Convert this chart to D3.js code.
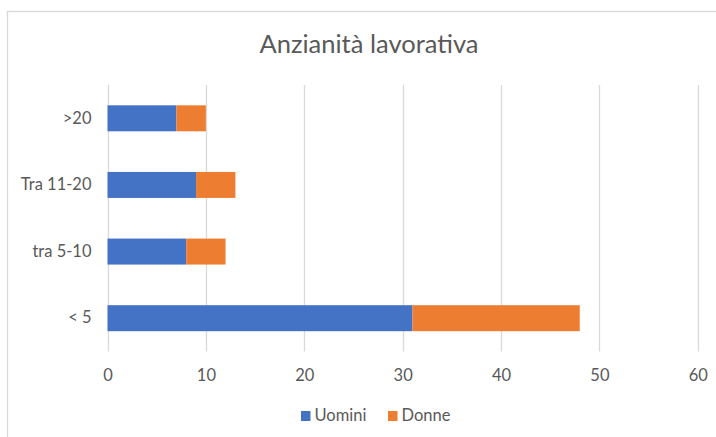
<!DOCTYPE html>
<html>
<head>
<meta charset="utf-8">
<script src="https://cdn.jsdelivr.net/npm/d3@7"></script>
<style>
  html, body { margin: 0; padding: 0; background: #fff; }
  svg { display: block; font-family: Lato, "Open Sans", sans-serif; }
</style>
</head>
<body>
<svg id="chart" width="716" height="437"></svg>
<script>
// Seniority bands, top to bottom
const categories = [">20", "Tra 11-20", "tra 5-10", "< 5"];
const uomini = [7, 9, 8, 31];
const donne = [3, 4, 4, 17];
const seriesNames = ["Uomini", "Donne"];
const seriesColors = ["#4472C4", "#ED7D31"];
const xTicks = [0, 10, 20, 30, 40, 50, 60];

const svg = d3.select("#chart");
const W = 716, H = 437;
const margin = { left: 107.5, right: 18, top: 85, bottom: 85.5 };
const textColor = "#595959";
const labelSize = "16.5px";

// Chart frame
svg.append("rect")
  .attr("x", 7.5).attr("y", 11.5)
  .attr("width", W + 10).attr("height", H + 10)
  .attr("fill", "#fff").attr("stroke", "#d9d9d9").attr("stroke-width", 1.3);

const x = d3.scaleLinear().domain([0, 60]).range([margin.left, 697.8]);
const y = d3.scaleBand().domain(categories)
  .range([margin.top, H - margin.bottom]).paddingInner(0.61).paddingOuter(0.305);

// Vertical gridlines
svg.append("g").selectAll("line").data(xTicks).join("line")
  .attr("x1", d => Math.round(x(d)) + 0.5).attr("x2", d => Math.round(x(d)) + 0.5)
  .attr("y1", margin.top).attr("y2", H - margin.bottom)
  .attr("stroke", "#d9d9d9").attr("stroke-width", 1.3);

// Stacked bars
const rows = categories.map((c, i) => ({ cat: c, Uomini: uomini[i], Donne: donne[i] }));
const stacked = d3.stack().keys(seriesNames)(rows);
svg.append("g").selectAll("g").data(stacked).join("g")
  .attr("fill", (d, i) => seriesColors[i])
  .selectAll("rect").data(d => d).join("rect")
  .attr("x", d => x(d[0]))
  .attr("width", d => x(d[1]) - x(d[0]))
  .attr("y", d => y(d.data.cat))
  .attr("height", y.bandwidth());

// X axis labels
const xAxis = d3.axisBottom(x).tickValues(xTicks).tickSize(0).tickPadding(0);
const gx = svg.append("g").attr("transform", `translate(0,381)`).call(xAxis);
gx.select(".domain").remove();
gx.selectAll("text").attr("fill", textColor).attr("font-size", labelSize)
  .attr("font-family", "Lato, 'Open Sans', sans-serif").attr("dy", "0");

// Y axis labels
const yAxis = d3.axisLeft(y).tickSize(0).tickPadding(16);
const gy = svg.append("g").attr("transform", `translate(${margin.left},0)`).call(yAxis);
gy.select(".domain").remove();
gy.selectAll("text").attr("fill", textColor).attr("font-size", labelSize)
  .attr("font-family", "Lato, 'Open Sans', sans-serif");

// Title
svg.append("text")
  .attr("x", 369).attr("y", 53)
  .attr("text-anchor", "middle")
  .attr("fill", textColor).attr("font-size", "25.5px")
  .text("Anzianità lavorativa");

// Legend
const legendItems = [{ name: "Uomini", x: 301 }, { name: "Donne", x: 388 }];
const lg = svg.append("g").selectAll("g").data(legendItems).join("g")
  .attr("transform", d => `translate(${d.x},411)`);
lg.append("rect").attr("width", 9.5).attr("height", 10)
  .attr("fill", (d, i) => seriesColors[i]);
lg.append("text").attr("x", 13.5).attr("y", 10)
  .attr("fill", textColor).attr("font-size", labelSize)
  .text(d => d.name);
</script>
</body>
</html>
